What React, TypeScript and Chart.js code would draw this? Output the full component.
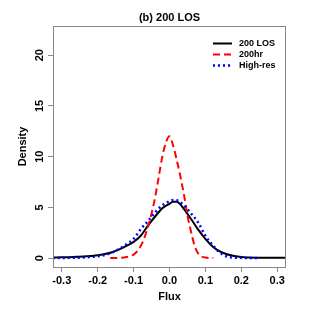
import { useEffect, useRef } from 'react';
import { Chart, registerables } from 'chart.js';

Chart.register(...registerables);

const titleText = '(b) 200 LOS';
const xTitle = 'Flux';
const yTitle = 'Density';
const xTicks = [-0.3, -0.2, -0.1, 0, 0.1, 0.2, 0.3];
const yTicks = [0, 5, 10, 15, 20];

const seriesNames = ['200 LOS', '200hr', 'High-res'];

const losX = [-0.325, -0.3, -0.28, -0.26, -0.24, -0.22, -0.2, -0.18, -0.16, -0.14, -0.12, -0.1, -0.08, -0.06, -0.04, -0.02, 0, 0.01, 0.02, 0.03, 0.04, 0.06, 0.08, 0.1, 0.12, 0.14, 0.16, 0.18, 0.2, 0.22, 0.24, 0.26, 0.28, 0.3, 0.325];
const losY = [0.05, 0.07, 0.09, 0.12, 0.15, 0.2, 0.27, 0.4, 0.58, 0.85, 1.2, 1.6, 2.2, 3.2, 4.1, 4.9, 5.35, 5.55, 5.55, 5.3, 4.85, 3.85, 2.8, 1.9, 1.15, 0.65, 0.37, 0.2, 0.1, 0.06, 0.04, 0.03, 0.03, 0.02, 0.02];

const hrX = [-0.165, -0.14, -0.12, -0.1, -0.09, -0.08, -0.07, -0.06, -0.05, -0.04, -0.03, -0.02, -0.01, 0, 0.01, 0.02, 0.03, 0.04, 0.05, 0.06, 0.07, 0.08, 0.09, 0.1, 0.122];
const hrY = [0, 0.02, 0.1, 0.35, 0.65, 1.2, 2.0, 3.1, 4.4, 6.0, 8.0, 10.0, 11.4, 12.0, 11.1, 9.7, 8.1, 6.3, 4.2, 2.6, 1.2, 0.45, 0.15, 0.05, 0];

const hiresX = [-0.325, -0.3, -0.28, -0.26, -0.24, -0.22, -0.2, -0.18, -0.16, -0.14, -0.12, -0.1, -0.08, -0.06, -0.04, -0.02, 0, 0.01, 0.02, 0.03, 0.04, 0.06, 0.08, 0.1, 0.12, 0.14, 0.16, 0.18, 0.2, 0.22, 0.25];
const hiresY = [0, 0, 0.02, 0.03, 0.05, 0.1, 0.17, 0.3, 0.55, 0.9, 1.35, 1.9, 2.85, 3.65, 4.5, 5.2, 5.6, 5.72, 5.7, 5.5, 5.2, 4.4, 3.5, 2.2, 1.3, 0.55, 0.15, 0.05, 0.02, 0, 0];

const FONT = '"Liberation Sans", Arial, Helvetica, sans-serif';

const overlay = {
  id: 'rOverlay',
  afterDraw(chart: any) {
    const ctx = chart.ctx;
    const { left, right, top, bottom } = chart.chartArea;
    const ys = chart.scales.y;
    ctx.save();
    // box
    ctx.strokeStyle = '#888';
    ctx.lineWidth = 1;
    ctx.strokeRect(Math.round(left) + 0.5, Math.round(top) + 0.5, Math.round(right - left) - 1, Math.round(bottom - top));
    ctx.fillStyle = '#000';
    // y tick labels (rotated)
    ctx.font = `bold 11px ${FONT}`;
    ctx.textAlign = 'center';
    ctx.textBaseline = 'middle';
    yTicks.forEach((v) => {
      const py = ys.getPixelForValue(v);
      ctx.save();
      ctx.translate(40, py);
      ctx.rotate(-Math.PI / 2);
      ctx.fillText(String(v), 0, 0);
      ctx.restore();
    });
    // y title
    ctx.save();
    ctx.translate(22.5, (top + bottom) / 2);
    ctx.rotate(-Math.PI / 2);
    ctx.fillText(yTitle, 0, 0);
    ctx.restore();
    // x title
    ctx.fillText(xTitle, (left + right) / 2, 297);
    // main title
    ctx.font = `bold 11px ${FONT}`;
    ctx.fillText(titleText, (left + right) / 2, 18);
    // legend
    const rows = [43.5, 54.5, 65.5];
    const styles = [
      { color: '#000', dash: [], w: 2 },
      { color: '#ff0000', dash: [7, 4], w: 2 },
      { color: '#0000ff', dash: [2, 3], w: 2.5 },
    ];
    ctx.font = `bold 9px ${FONT}`;
    ctx.textAlign = 'left';
    rows.forEach((ry, i) => {
      const s = styles[i];
      ctx.beginPath();
      ctx.strokeStyle = s.color;
      ctx.lineWidth = s.w;
      ctx.setLineDash(s.dash);
      ctx.moveTo(213, ry);
      ctx.lineTo(232, ry);
      ctx.stroke();
      ctx.setLineDash([]);
      ctx.fillStyle = '#000';
      ctx.fillText(seriesNames[i], 239, ry);
    });
    ctx.restore();
  },
};

export default function App() {
  const ref = useRef<HTMLCanvasElement>(null);
  useEffect(() => {
    if (!ref.current) return;
    const mk = (xs: number[], ys: number[]) => xs.map((x, i) => ({ x, y: ys[i] }));
    const common = {
      pointRadius: 0,
      fill: false,
      tension: 0.4,
      cubicInterpolationMode: 'monotone' as const,
      borderCapStyle: 'butt' as const,
    };
    const chart = new Chart(ref.current, {
      type: 'line',
      data: {
        datasets: [
          { ...common, label: seriesNames[0], data: mk(losX, losY), borderColor: '#000', borderWidth: 2, order: 3 },
          { ...common, label: seriesNames[1], data: mk(hrX, hrY), borderColor: '#ff0000', borderWidth: 2, borderDash: [7, 4], order: 2 },
          { ...common, label: seriesNames[2], data: mk(hiresX, hiresY), borderColor: '#0000ff', borderWidth: 2.5, borderDash: [2, 3], order: 1 },
        ],
      },
      options: {
        responsive: false,
        animation: false,
        devicePixelRatio: 1,
        layout: { padding: { top: 26, right: 26, left: 0, bottom: 0 } },
        plugins: { legend: { display: false }, tooltip: { enabled: false }, title: { display: false } },
        scales: {
          x: {
            type: 'linear',
            min: -0.3245,
            max: 0.3245,
            afterBuildTicks: (s: any) => { s.ticks = xTicks.map((v) => ({ value: v })); },
            afterFit: (s: any) => { s.height = 45; },
            grid: { drawOnChartArea: false, drawTicks: true, tickLength: 5, color: '#888' },
            border: { display: false },
            ticks: {
              color: '#000',
              font: { size: 11, weight: 'bold', family: FONT },
              padding: 2,
              maxRotation: 0,
              minRotation: 0,
              autoSkip: false,
              callback: (v: any) => Number(v).toFixed(1),
            },
          },
          y: {
            type: 'linear',
            min: -0.88,
            max: 22.88,
            afterBuildTicks: (s: any) => { s.ticks = yTicks.map((v) => ({ value: v })); },
            afterFit: (s: any) => { s.width = 53; },
            grid: { drawOnChartArea: false, drawTicks: true, tickLength: 5, color: '#888' },
            border: { display: false },
            ticks: { display: false },
          },
        },
      },
      plugins: [overlay],
    });
    return () => chart.destroy();
  }, []);
  return (
    <div style={{ position: 'absolute', left: 0, top: 0, width: 312, height: 312, background: '#fff' }}>
      <canvas ref={ref} width={312} height={312} style={{ display: 'block', width: 312, height: 312 }} />
    </div>
  );
}
